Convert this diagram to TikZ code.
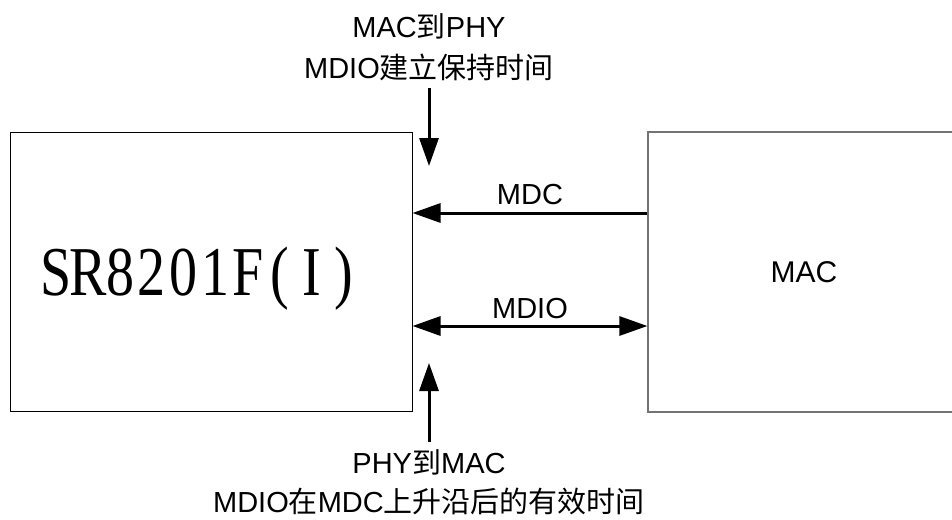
\documentclass[tikz,border=0pt]{standalone}
\usepackage{fontspec}
\setmainfont{Liberation Sans}
\newfontfamily\cjk{Noto Sans CJK SC}
\newfontfamily\serifchip[FakeStretch=0.8]{Liberation Serif}
\newcommand\monoch[1]{\makebox[32pt]{#1}}
\usetikzlibrary{arrows.meta}
\tikzset{
  blk/.style={draw=black, line width=1pt, inner sep=0pt},
  macblk/.style={draw=black!55, line width=1.2pt, inner sep=0pt},
  sig/.style={line width=3pt, -{Triangle[length=28pt,width=19pt]}},
  sig2/.style={line width=3pt, {Triangle[length=28pt,width=19pt]}-{Triangle[length=28pt,width=19pt]}},
  lbl/.style={font=\fontsize{29}{41}\selectfont, align=center, inner sep=0pt}
}
\begin{document}
\begin{tikzpicture}[x=1pt,y=-1pt]
\useasboundingbox (0,0) rectangle (952,519);
\clip (0,0) rectangle (952,519);
\node[blk, minimum width=402pt, minimum height=279pt] (phy) at (211,271.5) {};
\node[inner sep=0pt, anchor=base] (phyl) at (200,295)
  {\serifchip\fontsize{70}{76}\selectfont
   \monoch{S}\monoch{R}\monoch{8}\monoch{2}\monoch{0}\monoch{1}\monoch{F}\monoch{(}\monoch{I}\monoch{)}};
\node[macblk, minimum width=312pt, minimum height=280pt] (mac) at (804,272)
  {\fontsize{30}{36}\selectfont MAC};
\coordinate (mdcy) at (0,213);
\coordinate (mdioy) at (0,326);
\draw[sig] (mac.west |- mdcy) -- (phy.east |- mdcy) node[lbl, midway, above=7pt] (mdcl) {MDC};
\draw[sig2] (phy.east |- mdioy) -- (mac.west |- mdioy) node[lbl, midway, above=6pt] (mdiol) {MDIO};
\coordinate (ta) at (429,88);
\coordinate (tb) at (429,166);
\coordinate (ba) at (429,442);
\coordinate (bb) at (429,363);
\draw[sig] (ta) -- (tb);
\draw[sig] (ba) -- (bb);
\node[lbl] (toplbl) at (429,47.5) {MAC{\cjk 到}PHY\\MDIO{\cjk 建立保持时间}};
\node[lbl, font=\fontsize{29}{39}\selectfont, anchor=south] (botlbl) at (429,515) {PHY{\cjk 到}MAC\\MDIO{\cjk 在}MDC{\cjk 上升沿后的有效时间}};
\end{tikzpicture}
\end{document}
